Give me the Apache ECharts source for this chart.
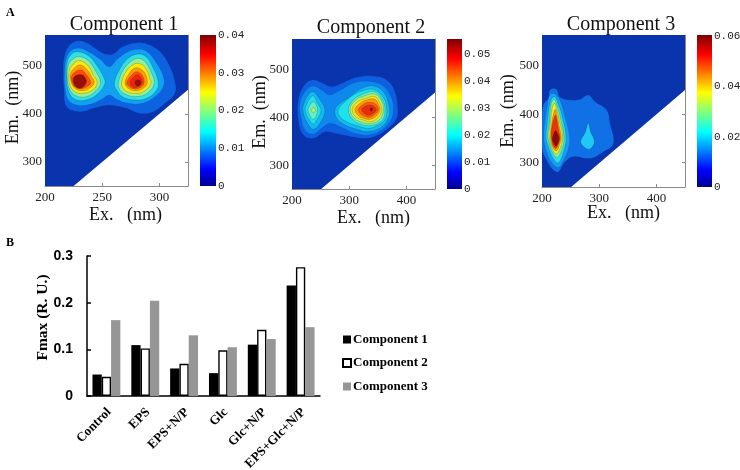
<!DOCTYPE html>
<html><head><meta charset="utf-8">
<style>html,body{margin:0;padding:0;background:#fff}#c{width:740px;height:470px}</style>
<script src="https://cdn.jsdelivr.net/npm/echarts@6/dist/echarts.min.js"></script>
</head><body><div id="c"></div>
<script>
// Bar panel data
const categories = ['Control','EPS','EPS+N/P','Glc','Glc+N/P','EPS+Glc+N/P'];
const fmaxComp1 = [0.046,0.109,0.059,0.049,0.110,0.237];
const fmaxComp2 = [0.041,0.102,0.069,0.098,0.142,0.276];
const fmaxComp3 = [0.1625,0.204,0.130,0.1045,0.122,0.1475];

// Contour outlines: [band, [[Ex,Em],...]]
const contours1 = [
 [1,[[216.6,515.5],[220.4,539.7],[227.7,551.5],[236.4,548],[245.1,534.2],[252.4,524.5],[259.7,524.5],[267,538.4],[280.1,548],[291.7,543],[301.9,525.9],[309.2,498],[313.6,467],[313.6,442.7],[304.9,421.9],[294.7,404.6],[283,401],[271.4,411.5],[261.2,417],[251,417],[242.2,411.5],[230.6,404.6],[218.9,415],[216.6,449.6],[216,484.3]]],
 [2,[[218.3,512],[221.8,529.3],[229.1,536.3],[237.9,529.3],[248,513.4],[256.2,498],[263.2,513.4],[272.8,529.3],[283,534.2],[290.3,527.3],[297.6,505],[303.4,477.4],[303.4,456.6],[296.1,435.8],[284.5,421.9],[272.8,421.9],[262.6,430.2],[256.2,439.2],[249.5,430.2],[239.3,419.9],[227.7,418.5],[220.4,428.9],[217.5,456.6],[217.2,487.8]]],
 [3,[[219.5,508.6],[223.3,524.5],[229.1,529.3],[237.9,521],[245.1,501.6],[251,477.4],[252.4,463.5],[246.6,442.7],[237.9,430.2],[227.7,428.9],[221.3,442.7],[218.9,473.9]]],
 [3,[[260.6,463.5],[265,491.2],[272.8,515.5],[281.6,524.5],[288.8,517.6],[294.7,494.7],[299,467],[297.6,449.6],[288.8,432.3],[278.6,428.9],[268.4,434.4],[262.6,449.6]]],
 [4,[[220.4,501.6],[225.3,515.5],[230.6,519],[237.9,510.6],[244.6,487.8],[248.6,464.9],[244.6,448.3],[236.4,435.8],[227.7,437.2],[221.8,449.6],[219.5,473.9]]],
 [4,[[264.1,463.5],[268.4,491.2],[274.9,508.6],[281.6,515.5],[288.2,506.5],[293.2,484.3],[295.5,463.5],[289.4,442.7],[278.6,435.8],[269.9,441.3],[265.5,449.6]]],
 [5,[[221.3,491.2],[226.2,506.5],[230.6,510.6],[237.9,499.5],[242.2,480.8],[245.7,464.9],[241.6,449.6],[233.5,442.7],[226.2,446.2],[221.8,460]]],
 [5,[[267,464.9],[270.8,487.8],[276.6,501.6],[281.6,505],[287.4,496.8],[291.7,473.9],[292.3,462],[285.9,446.2],[278.6,442.7],[271.4,446.2],[267.9,454.5]]],
 [6,[[222.4,484.3],[227.1,498],[231.2,501.6],[237,491.2],[240.8,477.4],[243.1,464.9],[238.7,453.1],[232,448.3],[226.2,453.1],[222.7,467]]],
 [6,[[269.9,464.9],[273.7,484.3],[277.8,494.7],[282.4,494.7],[287.4,484.3],[289.4,463.5],[284.5,451],[278.6,448.3],[272.8,453.1]]],
 [7,[[223.3,478.8],[227.7,489],[232,491.2],[236.4,480.8],[239.9,464.9],[236.4,456.6],[230.6,452.4],[226.2,456.6],[223.6,467]]],
 [7,[[271.4,464.9],[275.7,480.8],[280.7,487.8],[285.3,478.8],[286.5,463.5],[283,454.5],[277.8,452.4],[273.7,456.6]]],
 [9,[[224.8,473.9],[228.2,480.8],[232.9,480.8],[235.8,471.8],[235.8,463.5],[232.3,454.5],[228.2,454.5],[225.3,462]]],
 [8,[[274.3,464.9],[277.8,477.4],[281.6,480.8],[284.5,471.8],[284.8,463.5],[281.6,456.6],[277.2,455.2]]],
 [9,[[278.6,467],[281.3,471],[283.6,467],[283,460],[280.1,458.7]]]
];
const contours2 = [
 [1,[[211,436.3],[219.8,464.2],[234.3,478.2],[251.8,472.6],[269.3,464.2],[286.8,471.2],[313,483.7],[342.2,486.5],[365.5,478.2],[380,453.7],[384.7,418.8],[383,397.9],[368.4,377],[350.9,363],[330.5,356],[304.3,359.5],[275.1,366.5],[257.7,370],[237.3,356],[219.8,363],[211,394.4]]],
 [2,[[214,429.3],[222.7,453.7],[237.3,465.6],[251.8,457.2],[266.4,446.8],[286.8,458.6],[310.1,472.6],[339.2,474.7],[359.6,465.6],[374.2,439.8],[377.1,415.3],[373,394.4],[356.7,373.5],[333.4,363],[310.1,366.5],[286.8,379],[266.4,387.4],[251.8,377],[237.3,365.1],[222.7,373.5],[215.7,401.4]]],
 [3,[[219.8,425.8],[228.5,446.8],[237.3,453.7],[247.2,439.8],[257.7,415.3],[248.9,387.4],[237.3,374.9],[227.3,387.4],[219.8,408.4]]],
 [3,[[275.1,416.7],[283.9,429.3],[301.4,443.3],[321.8,460.7],[342.2,465.6],[359.6,453.7],[370.1,422.3],[368.4,397.9],[355.6,379],[333.4,370],[313,374.9],[292.6,383.9],[278,397.9]]],
 [4,[[223.9,422.3],[231.4,439.8],[237.3,444.7],[244.8,429.3],[250.7,414],[243.1,394.4],[237.3,386],[229.7,395.8],[223.9,411.9]]],
 [4,[[281,416.7],[292.6,432.8],[310.1,448.8],[324.7,455.8],[342.2,458.6],[357.9,444.7],[365.5,420.9],[362.6,395.8],[350.9,383.9],[333.4,377],[315.9,381.8],[295.5,390.9],[282.7,402.8]]],
 [5,[[228.5,418.8],[237.3,432.8],[244.8,415.3],[237.3,395.8],[229.7,408.4]]],
 [5,[[298.4,415.3],[307.2,436.3],[324.7,448.8],[345,453.7],[357.9,436.3],[362.6,416.7],[357.9,394.4],[342.2,383.9],[324.7,383.9],[307.2,394.4]]],
 [6,[[301.4,416.7],[310.1,434.9],[326.4,444.7],[345,448.8],[356.7,432.8],[359.6,415.3],[353.8,395.8],[339.2,387.4],[324.7,388.8],[309,397.9]]],
 [6,[[234.3,415.3],[237.3,420.2],[241.3,415.3],[237.3,409.8]]],
 [7,[[305.4,416.7],[313,431.4],[328.8,439.8],[345,443.3],[353.8,429.3],[356.7,415.3],[350.9,400],[338,390.9],[324.7,394.4],[311.3,401.4]]],
 [8,[[310.1,416.7],[318.8,429.3],[330.5,436.3],[345,437.7],[352,425.8],[353.8,415.3],[348,402.8],[336.3,395.8],[324.7,397.9],[314.8,404.9]]],
 [9,[[315.9,416.7],[324.7,427.2],[336.3,431.4],[346.8,427.2],[350.9,415.3],[345,406.3],[336.3,400],[326.4,402.8],[318.8,408.4]]],
 [10,[[321.8,416.7],[328.8,423.7],[338,425.8],[345,420.9],[347.4,415.3],[342.2,408.4],[334.6,404.2],[326.4,408.4]]],
 [11,[[336.3,416.7],[338.7,420.2],[341,416.7],[338.7,412.5]]]
];
const contours3 = [
 [1,[[200,398],[202.3,418.8],[211,432.5],[214,449.7],[225.6,451],[231.5,434.6],[249,429],[266.4,430.5],[281,439.4],[292.7,425.6],[313,408.5],[318.9,381],[324.7,339.8],[307.2,322.6],[284,308.9],[254.8,312.3],[240.2,302],[228.6,281.4],[219.8,284.8],[208.2,305.4],[200,329.5]]],
 [2,[[204.7,381],[209.3,415.3],[214,439.4],[222.7,441.4],[231.5,427.7],[240.2,394.7],[247.8,353.5],[246,329.5],[237.3,305.4],[228.6,290.3],[218.6,298.5],[208.2,322.6],[203.5,350]]],
 [3,[[209.3,381],[214,422.2],[221,436],[228.6,420.8],[236.1,391.3],[242,353.5],[238.5,326],[228.6,300],[219.8,308.9],[211,332.9],[207,353.5]]],
 [4,[[212.8,381],[215.7,418.8],[221,430.5],[226.8,415.3],[233.2,387.9],[238.5,352.1],[235.5,329.5],[226.8,310.9],[219.8,317.8],[212.8,339.8],[209.9,357]]],
 [5,[[215.1,384.4],[218,414],[222.1,422.2],[225.6,409.8],[231.5,381],[236.1,352.1],[232.6,332.9],[225.6,317.8],[219.8,324],[214,343.2],[212.2,360.4]]],
 [6,[[217.5,384.4],[221,405],[223.3,409.8],[225.6,401.6],[230.3,374.1],[233.8,350],[230.3,336.3],[225.6,324.7],[219.8,329.5],[215.1,346.6],[215.1,363.8]]],
 [7,[[218,377.5],[222.1,396.1],[223.9,398.2],[225.6,391.3],[229.1,367.3],[231.5,350],[228.6,338.4],[224.5,329.5],[219.8,334.3],[216.9,348],[216.3,363.8]]],
 [8,[[219.8,357],[223.3,365.9],[225.6,363.8],[229.7,350],[228,341.1],[224.5,334.3],[221,339.8],[218,348]]],
 [9,[[281,381],[285.1,363.8],[291.5,343.2],[283.9,328.1],[275.2,330.8],[267.6,343.2],[275.2,361.8]]]
];
const band1 = ['#0a34ae','#0d62e0','#12a0f0','#30e0e8','#96ee96','#ffe808','#ff9a00','#ff4a0a','#ee2210','#980e08'];
const band2 = ['#0a34ae','#0d5ee0','#0f88ee','#12b8f2','#20e0ee','#6cecc0','#c0f060','#ffe010','#ff9a08','#ff5a08','#ea2a10','#800808'];
const band3 = ['#0a34ae','#1070e6','#18a0f0','#2ce0ea','#90ee90','#f5ee20','#ff9a00','#f03010','#8c0a0a','#20c8f5'];

const Y_MIN = 250;
const panels = [
 {l:45,t:35,w:143,h:151,xMax:325,yMax:564,xT:[200,250,300],xTick:[250,300],cs:contours1,band:band1,hole:[[225,250],[325,450],[325,250]],
  title:'Component 1',tx:119,ty:10,cl:200,cw:16,cMax:0.04,cTicks:[0,0.01,0.02,0.03,0.04],nx:20,ny:23,xPad:18,yPad:6,cPad:5},
 {l:292,t:39,w:143,h:150,xMax:450,yMax:564,xT:[200,300,400],xTick:[300,400],cs:contours2,band:band2,hole:[[251,250],[450,452],[450,250]],
  title:'Component 2',tx:366,ty:13,cl:447,cw:15,cMax:0.0555,cTicks:[0,0.01,0.02,0.03,0.04,0.05],nx:20,ny:23,xPad:20,yPad:4,cPad:3},
 {l:542,t:35,w:143,h:152,xMax:450,yMax:563,xT:[200,300,400],xTick:[300,400],cs:contours3,band:band3,hole:[[251,250],[450,450],[450,250]],
  title:'Component 3',tx:616,ty:10,cl:697,cw:15,cMax:0.0605,cTicks:[0,0.02,0.04,0.06],nx:17,ny:25,xPad:20,yPad:0,cPad:5}
];
const SERIF='"Liberation Serif",serif', MONO='"Liberation Mono",monospace', SANS='"Liberation Sans",sans-serif';
const jet=[[0,'#00008f'],[0.11,'#0000ff'],[0.36,'#00ffff'],[0.62,'#ffff00'],[0.87,'#ff0000'],[1,'#800000']];
const grids=[],xAxes=[],yAxes=[],series=[],titles=[];

panels.forEach((p,i)=>{
  const gi=grids.length;
  grids.push({left:p.l,top:p.t,width:p.w,height:p.h,outerBoundsMode:'none'});
  xAxes.push({type:'value',gridIndex:gi,min:200,max:p.xMax,z:6,
    name:'Ex.   (nm)',nameLocation:'middle',nameMoveOverlap:false,nameGap:p.nx,nameTextStyle:{fontFamily:SERIF,fontSize:18,color:'#111',padding:[0,0,0,p.xPad]},
    axisLine:{show:true,lineStyle:{color:'#8a8a8a',width:1}},
    axisTick:{show:true,inside:true,length:3,customValues:p.xTick,lineStyle:{color:'#8a8a8a'}},
    axisLabel:{customValues:p.xT,margin:5,fontFamily:SERIF,fontSize:13,color:'#222'},splitLine:{show:false}});
  const yl=yAxes.length;
  yAxes.push({type:'value',gridIndex:gi,min:Y_MIN,max:p.yMax,position:'left',z:6,
    name:'Em.  (nm)',nameLocation:'middle',nameMoveOverlap:false,nameRotate:90,nameGap:p.ny,nameTextStyle:{fontFamily:SERIF,fontSize:18,color:'#111',padding:[0,0,0,p.yPad]},
    axisLine:{show:false},axisTick:{show:false},
    axisLabel:{customValues:[300,400,500],margin:3,fontFamily:SERIF,fontSize:13,color:'#222'},splitLine:{show:false}});
  yAxes.push({type:'value',gridIndex:gi,min:Y_MIN,max:p.yMax,position:'right',z:6,
    axisLine:{show:true,lineStyle:{color:'#8a8a8a',width:1}},
    axisTick:{show:true,inside:true,length:3,customValues:[300,400],lineStyle:{color:'#8a8a8a'}},
    axisLabel:{show:false},splitLine:{show:false}});
  const frame=[[200,Y_MIN],[200,p.yMax],[p.xMax,p.yMax],[p.xMax,Y_MIN]];
  const shapes=[[0,frame]].concat(p.cs).concat([[-1,p.hole]]);
  series.push({type:'custom',name:'contour'+(i+1),xAxisIndex:xAxes.length-1,yAxisIndex:yl,clip:true,silent:true,
    encode:{x:0,y:1},
    data:shapes.map((s,k)=>[s[1][0][0],s[1][0][1],k]),
    renderItem:(params,api)=>{
      const s=shapes[api.value(2)], b=s[0];
      const pts=s[1].map(q=>api.coord(q));
      if(b<=0) return {type:'polygon',shape:{points:pts},style:{fill:b<0?'#fff':p.band[0]},silent:true};
      return {type:'polygon',shape:{points:pts,smooth:0.4},
        style:{fill:p.band[b],stroke:b<=2?'rgba(10,40,90,0.2)':'rgba(20,50,40,0.45)',lineWidth:0.5},silent:true};
    }});
  titles.push({text:p.title,left:p.tx,top:p.ty,textAlign:'center',textStyle:{fontFamily:SERIF,fontWeight:'normal',fontSize:20,color:'#111'}});
  // colour bar
  const ci=grids.length;
  grids.push({left:p.cl,top:p.t,width:p.cw,height:p.h,outerBoundsMode:'none'});
  xAxes.push({type:'value',gridIndex:ci,min:0,max:1,show:false});
  yAxes.push({type:'value',gridIndex:ci,min:0,max:p.cMax,position:'right',z:6,
    axisLine:{show:false},axisTick:{show:false},
    axisLabel:{customValues:p.cTicks,margin:2,padding:[p.cPad,0,0,0],fontFamily:MONO,fontSize:11,color:'#222',formatter:v=>v===0?'0':v.toFixed(2)},splitLine:{show:false}});
  series.push({type:'custom',name:'colorbar'+(i+1),xAxisIndex:xAxes.length-1,yAxisIndex:yAxes.length-1,silent:true,
    encode:{x:0,y:1},data:[[0,p.cMax]],
    renderItem:(params,api)=>{
      const a=api.coord([0,p.cMax]),b=api.coord([1,0]);
      return {type:'rect',shape:{x:a[0],y:a[1],width:b[0]-a[0],height:b[1]-a[1]},silent:true,
        style:{fill:new echarts.graphic.LinearGradient(0,1,0,0,jet.map(j=>({offset:j[0],color:j[1]})))}};
    }});
});

// bar panel
const bi=grids.length;
grids.push({left:87,top:256,width:233,height:140,outerBoundsMode:'none'});
xAxes.push({type:'category',gridIndex:bi,data:categories,
  axisLine:{lineStyle:{color:'#000',width:1.5}},axisTick:{show:false},
  axisLabel:{interval:0,rotate:45,margin:17,padding:[0,-4,0,0],fontFamily:SERIF,fontWeight:'bold',fontSize:13,color:'#000'}});
yAxes.push({type:'value',gridIndex:bi,min:0,max:0.3,interval:0.1,
  name:'Fmax (R. U.)',nameLocation:'middle',nameMoveOverlap:false,nameGap:36,nameTextStyle:{fontFamily:SERIF,fontWeight:'bold',fontSize:15.5,color:'#000',padding:[0,0,0,17]},
  axisLine:{show:true,lineStyle:{color:'#000',width:1.5}},
  axisTick:{show:true,inside:true,length:4,lineStyle:{color:'#000',width:1.5}},
  axisLabel:{margin:14,fontFamily:SANS,fontWeight:'bold',fontSize:14,color:'#000',formatter:v=>v===0?'0':v.toFixed(1)},splitLine:{show:false}});
const bx=xAxes.length-1,by=yAxes.length-1;
[['Component 1',fmaxComp1,{color:'#000'}],
 ['Component 2',fmaxComp2,{color:'#fff',borderColor:'#000',borderWidth:1.4}],
 ['Component 3',fmaxComp3,{color:'#969696'}]].forEach(d=>{
  series.push({type:'bar',name:d[0],xAxisIndex:bx,yAxisIndex:by,data:d[1],barWidth:9.3,barGap:'0%',itemStyle:d[2],silent:true});
});
titles.push({text:'A',left:1,top:2,textStyle:{fontFamily:SERIF,fontWeight:'bold',fontSize:12,color:'#000'}});
titles.push({text:'B',left:1,top:232,textStyle:{fontFamily:SERIF,fontWeight:'bold',fontSize:12,color:'#000'}});

const chart=echarts.init(document.getElementById('c'),null,{renderer:'canvas'});
chart.setOption({animation:false,backgroundColor:'#fff',title:titles,grid:grids,xAxis:xAxes,yAxis:yAxes,series:series,
  legend:{orient:'vertical',left:337,top:328,itemWidth:8,itemHeight:8,itemGap:10.5,selectedMode:false,icon:'rect',
    data:['Component 1','Component 2','Component 3'],
    textStyle:{fontFamily:SERIF,fontWeight:'bold',fontSize:13,color:'#000',padding:[0,0,0,-3]}}});
</script></body></html>
